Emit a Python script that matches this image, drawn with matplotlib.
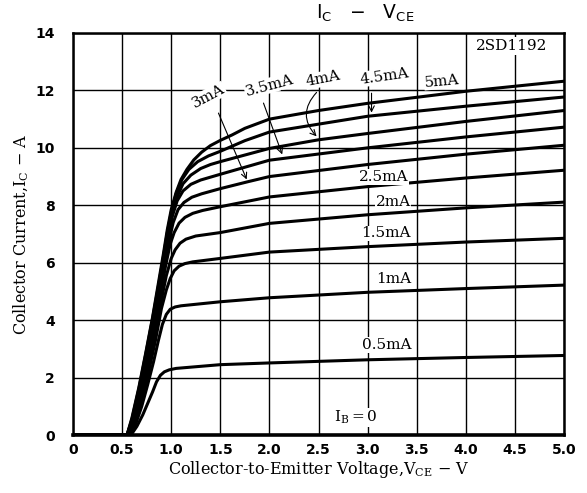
import matplotlib
matplotlib.use("Agg")
import matplotlib.pyplot as plt

plt.rcParams["mathtext.fontset"] = "dejavuserif"

# base current of each curve and its (V_CE, I_C) points
ib_labels = ["0.5mA", "1mA", "1.5mA", "2mA", "2.5mA", "3mA", "3.5mA", "4mA", "4.5mA", "5mA"]

v_05 = [0, 0.59, 0.65, 0.71, 0.76, 0.81, 0.85, 0.89, 0.93, 0.98, 1.05, 1.5, 2.0, 3.0, 4.0, 5.0]
i_05 = [0, 0.00, 0.30, 0.70, 1.10, 1.50, 1.85, 2.08, 2.20, 2.27, 2.32, 2.45, 2.51, 2.62, 2.70, 2.77]

v_10 = [0, 0.58, 0.64, 0.70, 0.76, 0.82, 0.87, 0.91, 0.95, 0.99, 1.04, 1.10, 1.5, 2.0, 3.0, 4.0, 5.0]
i_10 = [0, 0.00, 0.40, 1.00, 1.75, 2.55, 3.30, 3.85, 4.20, 4.38, 4.46, 4.50, 4.64, 4.78, 4.97, 5.10, 5.22]

v_15 = [0, 0.57, 0.63, 0.70, 0.77, 0.84, 0.90, 0.95, 0.99, 1.03, 1.08, 1.14, 1.22, 1.5, 2.0, 3.0, 4.0, 5.0]
i_15 = [0, 0.00, 0.45, 1.20, 2.20, 3.30, 4.40, 5.05, 5.45, 5.72, 5.88, 5.97, 6.03, 6.15, 6.37, 6.56, 6.72, 6.85]

v_20 = [0, 0.57, 0.63, 0.70, 0.77, 0.84, 0.90, 0.95, 1.00, 1.04, 1.09, 1.15, 1.25, 1.5, 2.0, 3.0, 4.0, 5.0]
i_20 = [0, 0.00, 0.50, 1.35, 2.40, 3.55, 4.70, 5.55, 6.15, 6.45, 6.68, 6.82, 6.93, 7.05, 7.37, 7.67, 7.91, 8.11]

v_25 = [0, 0.56, 0.62, 0.69, 0.76, 0.83, 0.89, 0.94, 0.99, 1.03, 1.08, 1.14, 1.22, 1.32, 1.5, 2.0, 3.0, 4.0, 5.0]
i_25 = [0, 0.00, 0.50, 1.40, 2.50, 3.70, 4.85, 5.85, 6.65, 7.05, 7.38, 7.58, 7.72, 7.82, 7.95, 8.29, 8.65, 8.95, 9.22]

v_30 = [0, 0.56, 0.62, 0.69, 0.76, 0.83, 0.89, 0.94, 0.98, 1.02, 1.07, 1.13, 1.21, 1.31, 1.5, 1.78, 2.0, 3.0, 4.0, 5.0]
i_30 = [0, 0.00, 0.55, 1.50, 2.60, 3.80, 4.95, 5.95, 6.80, 7.40, 7.85, 8.10, 8.28, 8.40, 8.58, 8.82, 9.00, 9.42, 9.78, 10.09]

v_35 = [0, 0.55, 0.61, 0.68, 0.75, 0.82, 0.88, 0.93, 0.97, 1.01, 1.06, 1.12, 1.20, 1.30, 1.5, 2.0, 3.0, 4.0, 5.0]
i_35 = [0, 0.00, 0.55, 1.50, 2.65, 3.90, 5.05, 6.05, 6.90, 7.60, 8.15, 8.50, 8.73, 8.88, 9.08, 9.57, 10.00, 10.38, 10.72]

v_40 = [0, 0.55, 0.61, 0.68, 0.75, 0.82, 0.88, 0.93, 0.97, 1.01, 1.06, 1.12, 1.20, 1.30, 1.40, 1.5, 2.0, 2.5, 3.0, 4.0, 5.0]
i_40 = [0, 0.00, 0.60, 1.60, 2.75, 4.00, 5.15, 6.15, 7.00, 7.70, 8.30, 8.75, 9.05, 9.28, 9.42, 9.52, 9.98, 10.28, 10.50, 10.92, 11.30]

v_45 = [0, 0.55, 0.60, 0.67, 0.74, 0.81, 0.87, 0.92, 0.96, 1.00, 1.05, 1.11, 1.18, 1.27, 1.38, 1.5, 1.75, 2.0, 3.0, 4.0, 5.0]
i_45 = [0, 0.00, 0.55, 1.60, 2.80, 4.05, 5.20, 6.20, 7.05, 7.75, 8.40, 8.90, 9.25, 9.52, 9.72, 9.88, 10.25, 10.55, 11.10, 11.45, 11.77]

v_50 = [0, 0.55, 0.60, 0.67, 0.74, 0.81, 0.87, 0.92, 0.96, 1.00, 1.05, 1.10, 1.16, 1.23, 1.31, 1.40, 1.5, 1.62, 1.75, 2.0, 2.5, 3.0, 4.0, 5.0]
i_50 = [0, 0.00, 0.60, 1.65, 2.85, 4.10, 5.30, 6.30, 7.15, 7.85, 8.45, 8.90, 9.25, 9.58, 9.85, 10.08, 10.26, 10.45, 10.68, 11.00, 11.30, 11.55, 11.97, 12.32]

curves_v = [v_05, v_10, v_15, v_20, v_25, v_30, v_35, v_40, v_45, v_50]
curves_i = [i_05, i_10, i_15, i_20, i_25, i_30, i_35, i_40, i_45, i_50]

x_ticks = [0, 0.5, 1.0, 1.5, 2.0, 2.5, 3.0, 3.5, 4.0, 4.5, 5.0]
x_ticklabels = ["0", "0.5", "1.0", "1.5", "2.0", "2.5", "3.0", "3.5", "4.0", "4.5", "5.0"]
y_ticks = [0, 2, 4, 6, 8, 10, 12, 14]

# labels laid flat beside the lower curves: (text, V, I)
flat_labels = [("0.5mA", 3.20, 3.13), ("1mA", 3.27, 5.45), ("1.5mA", 3.19, 7.02),
               ("2mA", 3.26, 8.12), ("2.5mA", 3.16, 8.98)]
# tilted labels of the upper curves: (text, V, I, angle)
tilt_labels = [("3mA", 1.38, 11.80, 28), ("3.5mA", 2.00, 12.17, 15), ("4mA", 2.55, 12.40, 11),
               ("4.5mA", 3.17, 12.49, 8), ("5mA", 3.76, 12.32, 5)]

fig = plt.figure(figsize=(5.87, 4.93), dpi=100)
ax = fig.add_axes([0.1244, 0.1176, 0.8364, 0.8155])

for v, i in zip(curves_v, curves_i):
    ax.plot(v, i, color="black", lw=2.2, solid_joinstyle="round", solid_capstyle="round", zorder=3)

ax.set_xlim(0, 5.0)
ax.set_ylim(0, 14)
ax.set_xticks(x_ticks)
ax.set_xticklabels(x_ticklabels)
ax.set_yticks(y_ticks)
ax.grid(True, color="black", lw=1.0)
ax.tick_params(axis="x", length=0, labelsize=10, pad=6)
ax.tick_params(axis="y", length=0, labelsize=10, pad=13)
for lab in ax.get_xticklabels() + ax.get_yticklabels():
    lab.set_fontweight("bold")
    lab.set_family("DejaVu Sans")
for s in ax.spines.values():
    s.set_linewidth(1.8)
ax.spines["bottom"].set_linewidth(2.6)

ax.set_xlabel("Collector-to-Emitter Voltage,V$_{\\rm CE}$ $-$ V", family="DejaVu Serif", fontsize=11.5, labelpad=1)
ax.set_ylabel("Collector Current,I$_{\\rm C}$ $-$ A", family="DejaVu Serif", fontsize=11.5, labelpad=3)
fig.text(0.623, 0.972, "I$_{\\rm C}$   $-$   V$_{\\rm CE}$", family="DejaVu Sans", fontsize=13.5,
         ha="center", va="center", math_fontfamily="dejavusans")

box = dict(facecolor="white", edgecolor="none", pad=0.5)
for txt, v, i in flat_labels:
    ax.text(v, i, txt, family="DejaVu Serif", fontsize=11, ha="center", va="center", bbox=box, zorder=4)
ax.text(2.88, 0.6, "I$_{\\rm B}$$=$0", family="DejaVu Serif", fontsize=11, ha="center", va="center",
        bbox=box, zorder=4)
ax.text(4.47, 13.55, "2SD1192", family="DejaVu Serif", fontsize=11, ha="center", va="center",
        bbox=dict(facecolor="white", edgecolor="none", pad=1.5), zorder=4)
for txt, v, i, ang in tilt_labels:
    ax.text(v, i, txt, family="DejaVu Serif", fontsize=11, ha="center", va="center", rotation=ang,
            bbox=box, zorder=4)

# pointer arrows from the tilted labels to their curves
arrow = dict(arrowstyle="->", color="black", lw=0.8)
ax.annotate("", xy=(1.78, 8.81), xytext=(1.47, 11.3), arrowprops=arrow, zorder=5)
ax.annotate("", xy=(2.14, 9.68), xytext=(1.93, 11.65), arrowprops=arrow, zorder=5)
ax.plot([2.12, 2.50], [12.0, 12.0], color="black", lw=0.8, zorder=5)
ax.annotate("", xy=(2.50, 10.33), xytext=(2.50, 12.0),
            arrowprops=dict(arrowstyle="->", color="black", lw=0.8, connectionstyle="arc3,rad=0.5"), zorder=5)
ax.plot([3.04, 3.50], [12.0, 12.0], color="black", lw=0.8, zorder=5)
ax.annotate("", xy=(3.04, 11.13), xytext=(3.04, 12.0), arrowprops=arrow, zorder=5)

plt.savefig("out.png", dpi=100)
